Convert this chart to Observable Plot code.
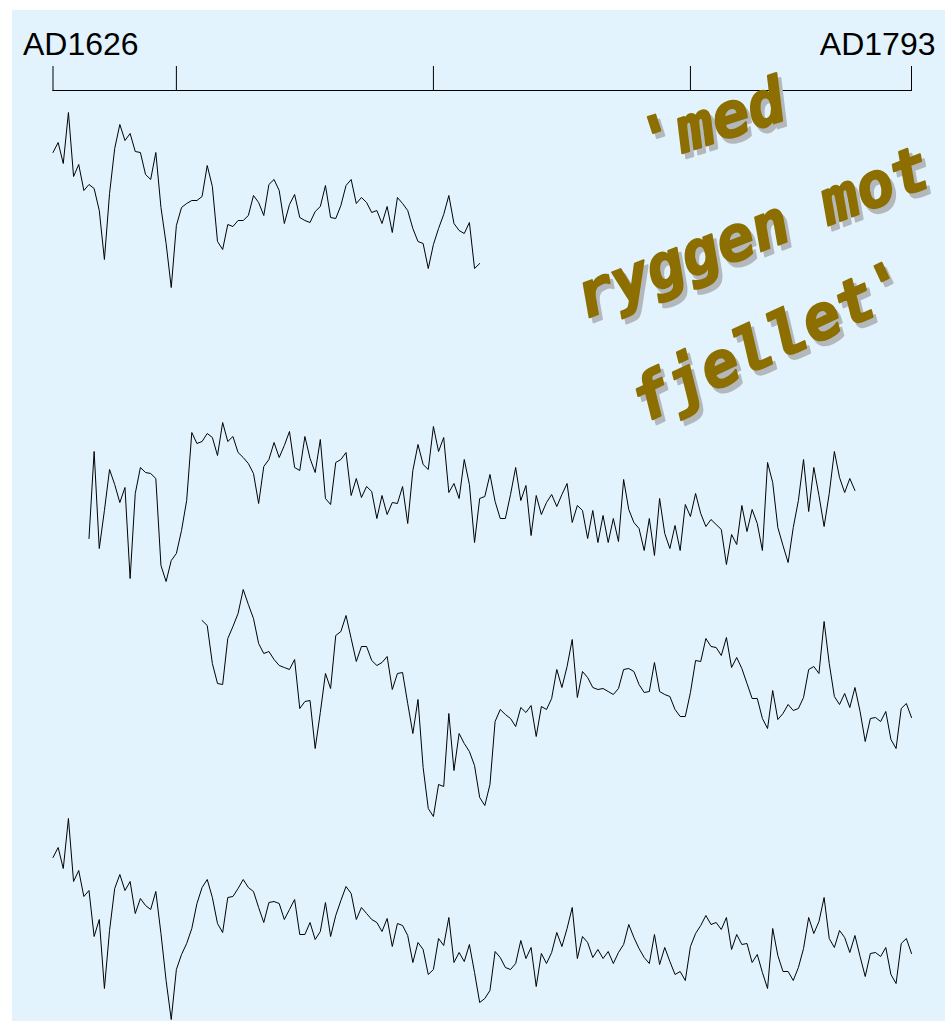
<!DOCTYPE html>
<html>
<head>
<meta charset="utf-8">
<script src="https://cdn.jsdelivr.net/npm/d3@7"></script>
<script src="https://cdn.jsdelivr.net/npm/@observablehq/plot@0.6"></script>
<style>
  html, body { margin: 0; padding: 0; background: #ffffff; }
  #wrap { position: relative; width: 950px; height: 1021px; }
  #panel { position: absolute; left: 12px; top: 10px; width: 933px; height: 1011px; background: #e2f3fd; }
  #chart { position: absolute; left: 0; top: 0; }
</style>
</head>
<body>
<div id="wrap"><div id="panel"></div><div id="chart"></div></div>
<script>
// Ring-width index series (relative units), one value per year
const series1Start = 1626;
const series1 = [148,158,137,188,124,136,110,116,112,90,
  41,107,152,176,160,167,149,148,126,121,
  148,93,57,13,75,93,97,100,100,104,
  135,114,59,51,76,74,80,80,85,105,
  98,85,116,121,110,77,96,106,83,80,
  78,89,94,115,83,82,95,115,121,97,
  103,98,88,90,77,94,68,103,97,90,
  72,59,57,32,56,72,86,105,77,70,
  67,78,32,37];

const series2Start = 1633;
const series2 = [52,139,42,80,121,106,88,103,12,97,
  123,118,117,112,25,9,30,37,60,90,
  158,147,149,157,153,135,168,149,154,138,
  133,127,117,87,124,131,148,133,145,159,
  123,120,154,132,118,151,92,86,128,131,
  138,95,112,93,104,99,72,95,76,88,
  87,104,67,120,146,126,121,164,139,153,
  98,107,92,131,106,48,92,94,116,89,
  72,72,96,123,90,105,55,95,76,88,
  96,84,96,107,68,85,80,52,80,48,
  75,48,72,49,111,81,68,62,40,72,
  35,92,57,42,65,40,86,74,97,77,
  64,71,66,61,26,56,46,85,59,81,
  67,40,128,108,63,45,28,63,90,131,
  79,123,95,64,97,139,113,98,112,100];

const series3Start = 1655;
const series3 = [210,205,167,147,146,192,204,217,241,226,
  212,187,177,179,171,165,163,161,171,122,
  129,130,82,118,157,142,195,199,215,192,
  169,184,184,170,165,168,174,141,157,158,
  127,97,131,63,22,14,
  46,44,117,60,97,87,79,65,33,25,
  46,109,121,116,112,104,123,118,125,94,
  124,121,132,161,143,164,191,133,159,153,
  143,141,142,139,136,142,161,162,159,146,
  138,139,168,139,136,134,
  121,114,114,138,170,169,192,184,183,175,
  193,163,173,162,147,132,132,112,102,140,
  111,117,126,120,122,133,161,164,157,209,
  167,134,126,137,123,143,119,89,112,113,
  109,119,91,82,122,127,113];

const series4Start = 1626;
const series4 = [163,173,152,202,139,150,124,130,84,101,
  32,90,132,146,130,139,107,122,115,111,
  129,87,40,1,51,66,77,92,117,133,
  141,123,97,88,123,124,132,141,133,129,
  113,98,
  118,119,117,101,111,121,86,86,98,81,
  89,118,84,105,120,134,127,101,113,107,
  101,98,89,102,74,97,95,85,58,78,
  71,46,51,82,75,103,58,68,59,76,
  48,18,
  22,30,69,63,53,51,57,80,62,73,
  34,67,57,68,88,74,92,113,62,84,
  78,63,71,62,69,57,68,76,96,83,
  72,63,57,86,56,73,59,46,49,40,
  74,87,
  95,105,96,98,91,103,71,86,76,77,
  58,66,48,32,92,65,49,49,40,53,
  72,103,87,99,123,82,73,90,83,68,
  85,64,44,67,68,64,73,46,37,77,
  82,67];

const tickYears = [1626, 1650, 1700, 1750, 1793];
const endLabels = [{year: 1626, label: "AD1626"}, {year: 1793, label: "AD1793"}];
const titleLines = ["'med", "ryggen mot", "fjellet'"];

// layout: vertical offset of each series band (in index units)
const bands = [
  {name: "s1", start: series1Start, values: series1, offset: 720},
  {name: "s2", start: series2Start, values: series2, offset: 430},
  {name: "s3", start: series3Start, values: series3, offset: 190},
  {name: "s4", start: series4Start, values: series4, offset: 0}
];
const rows = bands.flatMap(b => b.values.map((v, i) => ({series: b.name, year: b.start + i, y: b.offset + v})));

const yTop = 930;
const titleFont = {fontFamily: "'DejaVu Sans Mono', monospace", fontWeight: "bold", fontStyle: "italic", fontSize: 62, strokeWidth: 2, strokeLinejoin: "round"};
const titlePos = [
  {dx: 712, dy: 122, rotate: -18},
  {dx: 752, dy: 233, rotate: -21},
  {dx: 770, dy: 342, rotate: -25}
];
const titleMarks = titleLines.flatMap((t, i) => {
  const p = titlePos[i];
  return [
    Plot.text([t], {frameAnchor: "top-left", dx: p.dx + 4 - 52.5, dy: p.dy + 5 - 90, rotate: p.rotate, text: d => d, fill: "#b3b8bd", stroke: "#b3b8bd", textAnchor: "middle", lineAnchor: "middle", ...titleFont}),
    Plot.text([t], {frameAnchor: "top-left", dx: p.dx - 52.5, dy: p.dy - 90, rotate: p.rotate, text: d => d, fill: "#8c6f00", stroke: "#8c6f00", textAnchor: "middle", lineAnchor: "middle", ...titleFont})
  ];
});

const chart = Plot.plot({
  width: 950,
  height: 1021,
  marginTop: 90,
  marginLeft: 52.5,
  marginRight: 39,
  marginBottom: 1,
  style: {background: "transparent", overflow: "visible"},
  x: {domain: [1626, 1793], axis: null},
  y: {domain: [0, yTop], axis: null},
  marks: [
    Plot.ruleY([yTop], {x1: tickYears[0], x2: tickYears[tickYears.length - 1], stroke: "black", strokeWidth: 1}),
    Plot.axisX(tickYears, {anchor: "top", tickSize: 25, tickFormat: () => "", stroke: "black", strokeWidth: 1, label: null}),
    Plot.text(endLabels.slice(0, 1), {x: "year", text: "label", frameAnchor: "top", dy: -58, dx: -30, textAnchor: "start", fontSize: 32, fontFamily: "Liberation Sans, Arial, sans-serif", fill: "black"}),
    Plot.text(endLabels.slice(1), {x: "year", text: "label", frameAnchor: "top", dy: -58, dx: 24, textAnchor: "end", fontSize: 32, fontFamily: "Liberation Sans, Arial, sans-serif", fill: "black"}),
    Plot.line(rows, {x: "year", y: "y", z: "series", stroke: "black", strokeWidth: 1}),
    ...titleMarks
  ]
});
document.getElementById("chart").appendChild(chart);
</script>
</body>
</html>
